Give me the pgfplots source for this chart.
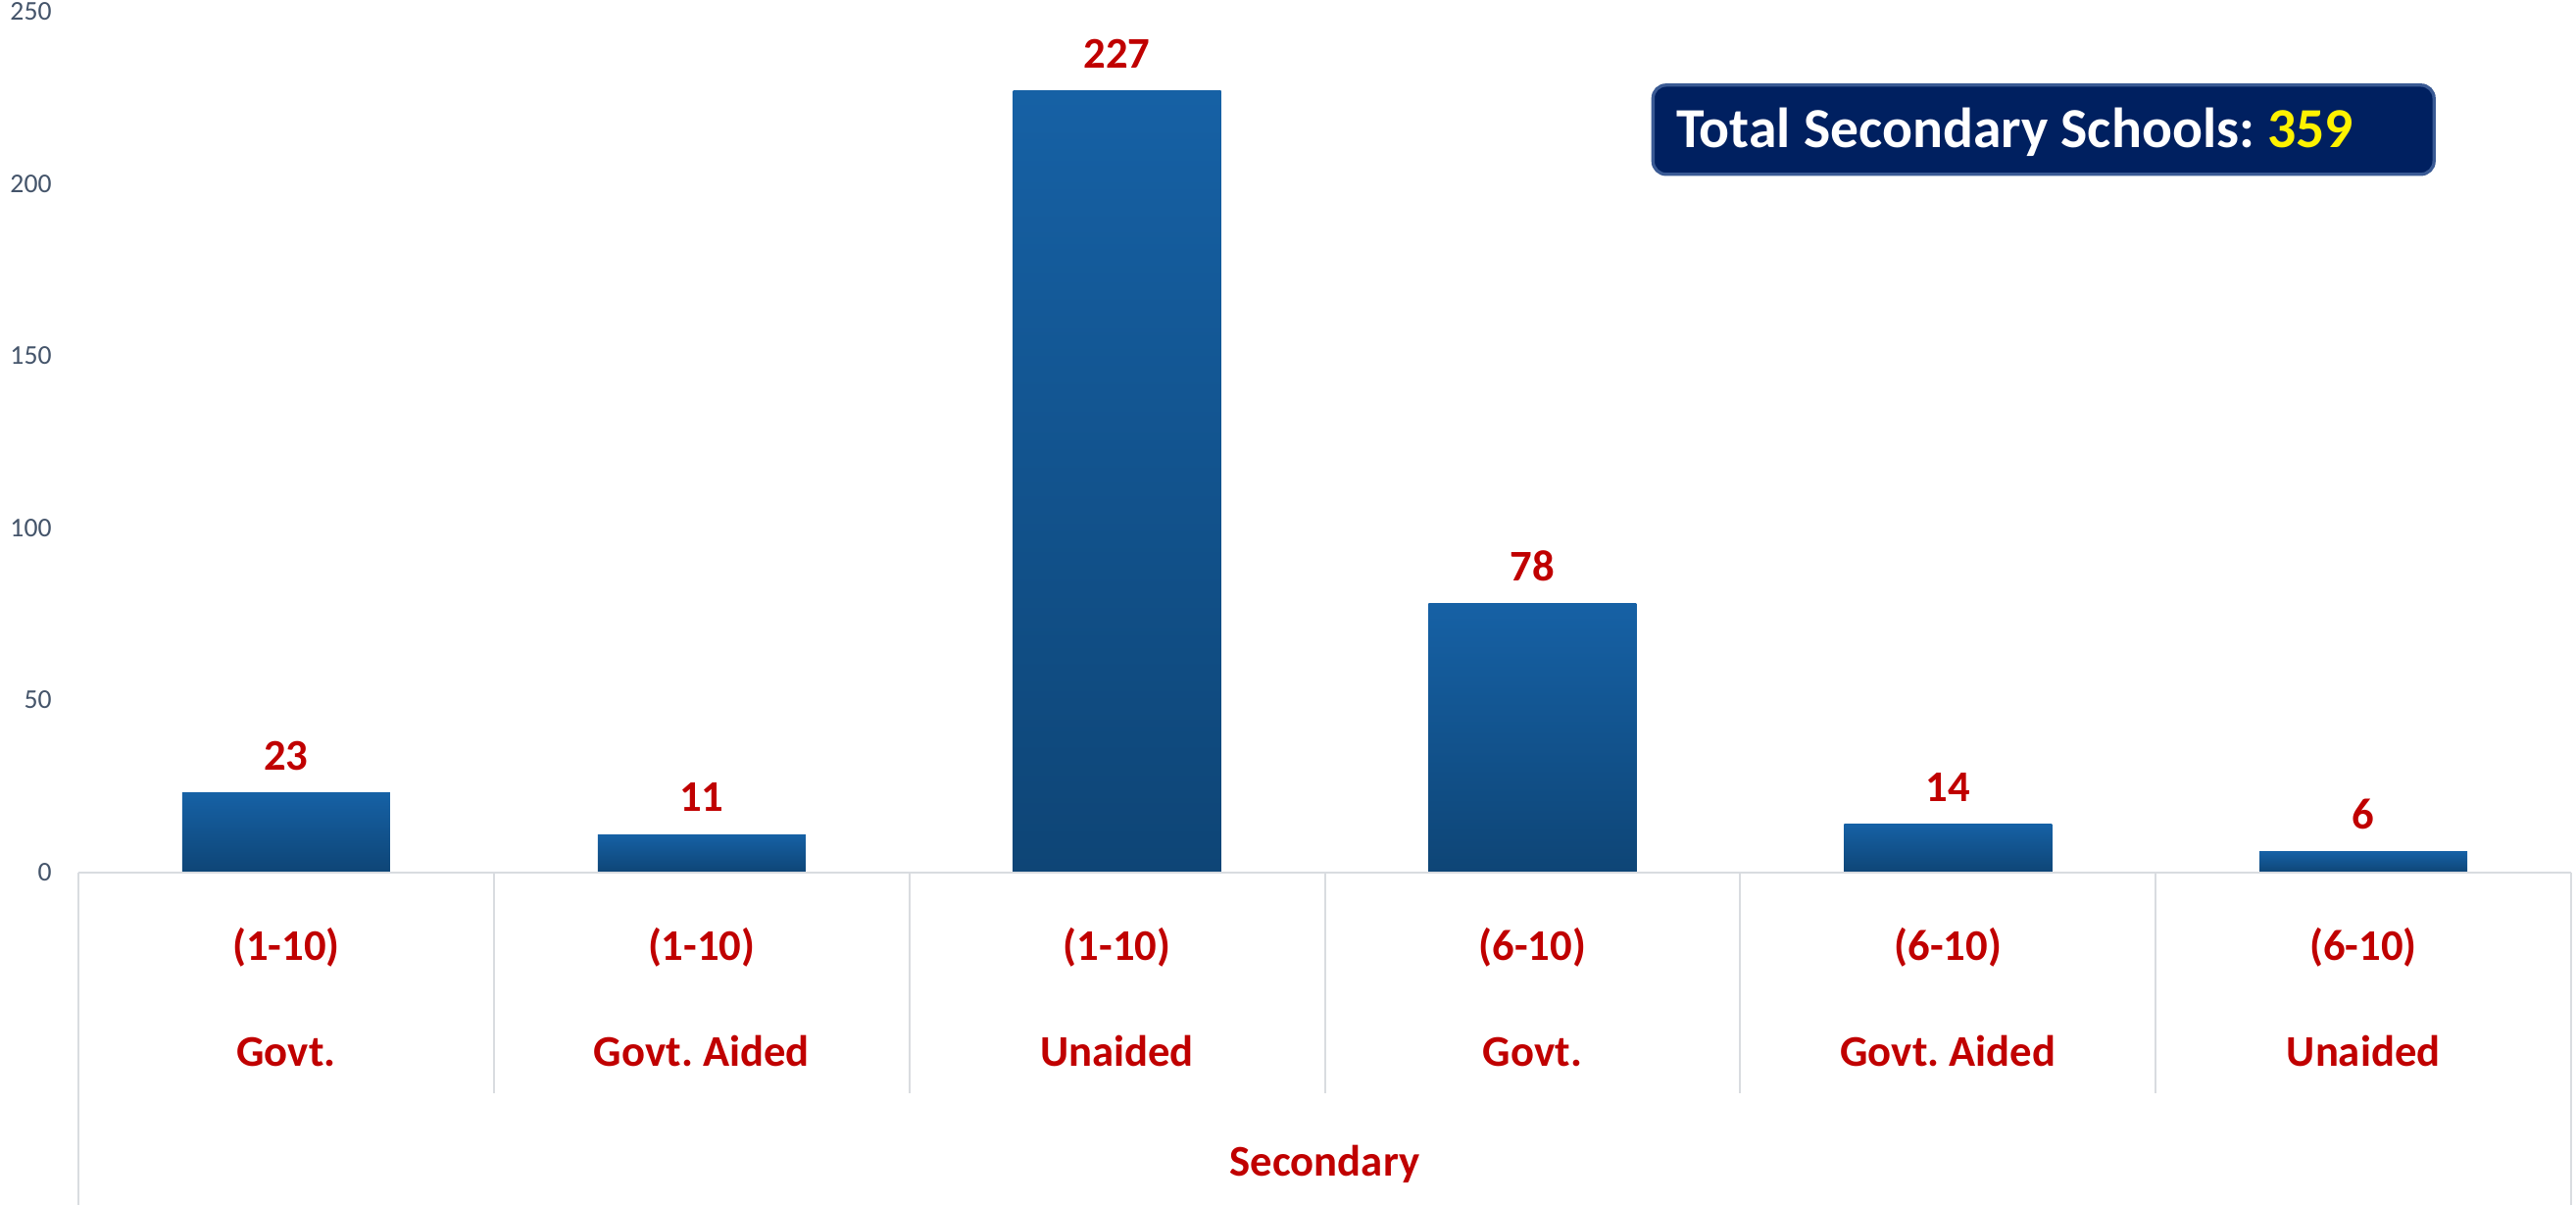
\documentclass[border=0pt]{standalone}
\usepackage{pgfplots}
\pgfplotsset{compat=1.18}
\usepackage{fontspec}
\setmainfont{Carlito}
\frenchspacing
\definecolor{barTop}{HTML}{1661A5}
\definecolor{barBot}{HTML}{0E4576}
\definecolor{lblRed}{HTML}{C00000}
\definecolor{tickGray}{HTML}{44546A}
\definecolor{lineGray}{HTML}{D9DCE0}
\definecolor{boxNavy}{HTML}{002060}
\definecolor{boxEdge}{HTML}{3A5A94}
\begin{document}
\begin{tikzpicture}
\path[use as bounding box] (-24pt,-101.7pt) rectangle (764.4pt,266.9pt);
\begin{axis}[
  at={(0,0)}, anchor=south west,
  scale only axis, width=762.9pt, height=263.4pt,
  xmin=-0.5, xmax=5.5, ymin=0, ymax=250,
  xtick=\empty,
  ytick={0,50,100,150,200,250},
  axis line style={draw=none},
  major tick length=0pt,
  yticklabel style={font=\fontsize{8.3}{10}\selectfont, text=tickGray, xshift=-4.7pt},
  /pgf/number format/assume math mode=true,
  clip=false,
  ybar, bar width=63.6pt, bar shift=0pt,
  nodes near coords,
  every node near coord/.append style={font=\bfseries\fontsize{13.4}{15}\selectfont, text=lblRed, anchor=base, yshift=7pt},
  barstyle/.style={draw=none, top color=barTop, bottom color=barBot},
]
\addplot[barstyle] coordinates {(0,23)};
\addplot[barstyle] coordinates {(1,11)};
\addplot[barstyle] coordinates {(2,227)};
\addplot[barstyle] coordinates {(3,78)};
\addplot[barstyle] coordinates {(4,14)};
\addplot[barstyle] coordinates {(5,6)};
\draw[fill=boxNavy, draw=boxEdge, line width=1pt, rounded corners=4pt] (axis cs:3.29,228.6) rectangle (axis cs:5.17,202.7);
\node[anchor=base west, inner sep=0pt, text=white, font=\bfseries\fontsize{17.3}{20}\selectfont, xshift=7pt, yshift=-5.6pt] at (axis cs:3.29,215.7) {Total Secondary Schools: \textcolor{yellow}{359}};
\end{axis}
% category table
\draw[lineGray, line width=0.6pt] (0,0) -- (762.9pt,0);
\foreach \k in {1,...,5} {\draw[lineGray, line width=0.6pt] (127.15pt*\k,0) -- (127.15pt*\k,-67.5pt);}
\draw[lineGray, line width=0.6pt] (0,0) -- (0,-101.7pt);
\draw[lineGray, line width=0.6pt] (762.9pt,0) -- (762.9pt,-101.7pt);
\begin{scope}[every node/.style={anchor=base, inner sep=0pt, text=lblRed, font=\bfseries\fontsize{13.4}{15}\selectfont}]
\node at (63.575pt,-27pt) {(1-10)};
\node at (190.725pt,-27pt) {(1-10)};
\node at (317.875pt,-27pt) {(1-10)};
\node at (445.025pt,-27pt) {(6-10)};
\node at (572.175pt,-27pt) {(6-10)};
\node at (699.325pt,-27pt) {(6-10)};
\node at (63.575pt,-59.4pt) {Govt.};
\node at (190.725pt,-59.4pt) {Govt.\ Aided};
\node at (317.875pt,-59.4pt) {Unaided};
\node at (445.025pt,-59.4pt) {Govt.};
\node at (572.175pt,-59.4pt) {Govt.\ Aided};
\node at (699.325pt,-59.4pt) {Unaided};
\node at (381.45pt,-93pt) {Secondary};
\end{scope}
\end{tikzpicture}
\end{document}
